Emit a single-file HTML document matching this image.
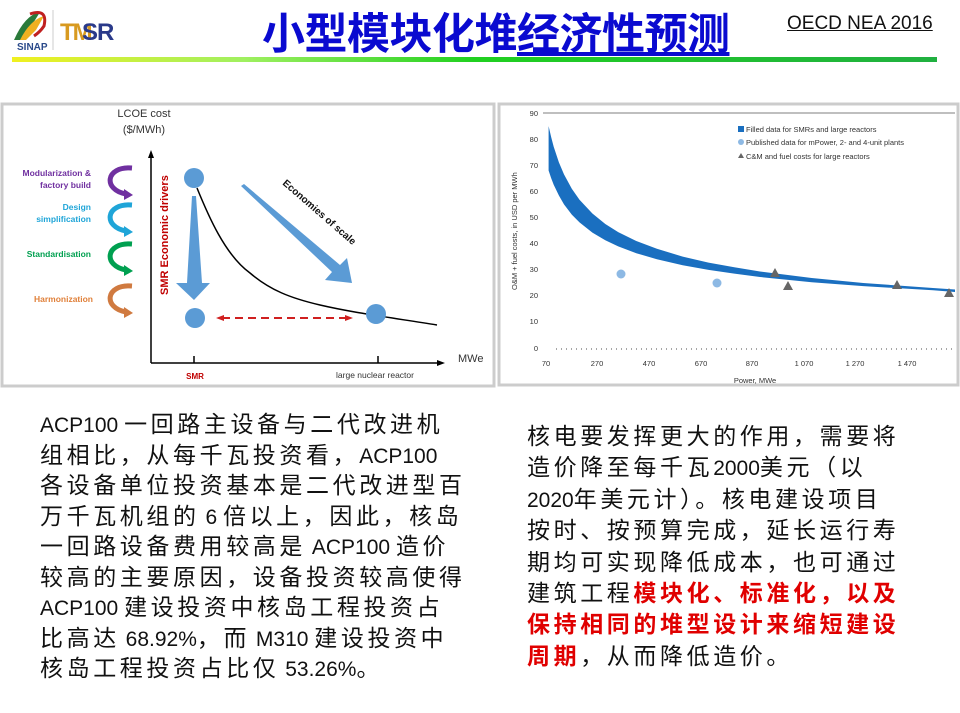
<!DOCTYPE html>
<html><head><meta charset="utf-8"><style>
body{margin:0;width:960px;height:713px;background:#fff;position:relative;overflow:hidden;font-family:"Liberation Sans","Noto Sans CJK SC",sans-serif}
.t{position:absolute;white-space:nowrap}
.p{position:absolute;font-size:23px;letter-spacing:3.6px;color:#111;font-family:"Liberation Sans","Noto Sans CJK SC",sans-serif;white-space:nowrap}
.p div{height:30.5px;line-height:30px;overflow:visible}
.p.r div{height:31.4px}
.p i{font-style:normal;font-size:21px;letter-spacing:0}
</style></head><body>
<div class="t" style="left:262px;top:3px;font-size:43px;font-weight:bold;color:#0a0ad0;font-family:'Noto Sans CJK SC',sans-serif;letter-spacing:-0.5px;line-height:56px">小型模块化堆<span style="text-decoration:underline">经济性预测</span></div>
<div class="t" style="left:787px;top:13px;font-size:19px;color:#111;text-decoration:underline">OECD NEA 2016</div>
<div style="position:absolute;left:12px;top:57px;width:925px;height:5px;background:linear-gradient(90deg,#f0f020,#a0f060 25%,#20d020 50%,#20b040 100%)"></div>
<svg style="position:absolute;left:0;top:0" width="960" height="713">
 <path d="M14 40 Q25 15 40 12 Q34 22 22 40Z" fill="#2a7a3a"/>
 <path d="M20 40 Q30 20 44 16 L36 30 Q30 36 26 40Z" fill="#f0b020"/>
 <path d="M30 14 Q48 8 44 26 Q40 32 34 36" fill="none" stroke="#c02020" stroke-width="3"/>
 <text x="17" y="50" font-size="10" font-weight="bold" fill="#2a4a8a" font-family="Liberation Sans">SINAP</text>
 <line x1="53" y1="10" x2="53" y2="50" stroke="#ccc"/>
 <text x="60" y="40" font-size="24" font-weight="bold" fill="#d89a20" font-family="Liberation Sans" letter-spacing="-2">TM</text>
 <text x="82" y="40" font-size="24" font-weight="bold" fill="#2a3a8a" font-family="Liberation Sans" letter-spacing="-1">SR</text>
 <rect x="2" y="104" width="492" height="282" fill="#fff" stroke="#ccc" stroke-width="3"/>
 <rect x="499" y="104" width="459" height="281" fill="#fff" stroke="#ccc" stroke-width="3"/>
 <g font-family="Liberation Sans">
 <text x="144" y="117" font-size="11" fill="#333" text-anchor="middle">LCOE cost</text>
 <text x="144" y="133" font-size="11" fill="#333" text-anchor="middle">($/MWh)</text>
 <line x1="151" y1="155" x2="151" y2="363" stroke="#000" stroke-width="1.5"/>
 <path d="M148 158 L151 150 L154 158Z"/>
 <line x1="151" y1="363" x2="440" y2="363" stroke="#000" stroke-width="1.5"/>
 <path d="M437 360 L445 363 L437 366Z"/>
 <line x1="194" y1="356" x2="194" y2="363" stroke="#000" stroke-width="1.5"/>
 <line x1="378" y1="356" x2="378" y2="363" stroke="#000" stroke-width="1.5"/>
 <text x="195" y="379" font-size="8" font-weight="bold" fill="#c00000" text-anchor="middle">SMR</text>
 <text x="375" y="378" font-size="8.5" fill="#333" text-anchor="middle">large nuclear reactor</text>
 <text x="458" y="362" font-size="11" fill="#333">MWe</text>
 <path d="M197 188 C208 215 225 255 250 273 C270 290 290 298 320 305 C350 312 380 316 437 325" fill="none" stroke="#000" stroke-width="1.5"/>
 <polygon points="192,196 196,196 202,283 210,283 194,300 176,283 187,283" fill="#5b9bd5"/>
 <polygon points="241,186 244,184 340,265 347,258 352,283 325,280 332,272" fill="#5b9bd5"/>
 <circle cx="194" cy="178" r="10" fill="#5b9bd5"/>
 <circle cx="195" cy="318" r="10" fill="#5b9bd5"/>
 <circle cx="376" cy="314" r="10" fill="#5b9bd5"/>
 <line x1="222" y1="318" x2="347" y2="318" stroke="#d02020" stroke-width="2" stroke-dasharray="8,5"/>
 <path d="M216 318 L224 315 L224 321Z M353 318 L345 315 L345 321Z" fill="#d02020"/>
 <text transform="translate(282,184) rotate(41)" font-size="10" font-weight="bold" fill="#111">Economies of scale</text>
 <text transform="translate(168,295) rotate(-90)" font-size="11" font-weight="bold" fill="#c00000">SMR Economic drivers</text>
 <g font-size="8.5" font-weight="bold" text-anchor="end">
  <text x="91" y="176" fill="#7030a0">Modularization &amp;</text>
  <text x="91" y="188" fill="#7030a0">factory build</text>
  <text x="91" y="210" fill="#1fa5d8">Design</text>
  <text x="91" y="222" fill="#1fa5d8">simplification</text>
  <text x="91" y="257" fill="#00a050">Standardisation</text>
  <text x="93" y="302" fill="#e0803a">Harmonization</text>
 </g>
 <g fill="none" stroke-width="5">
  <path d="M132 168 C105 166 103 190 126 194" stroke="#7030a0"/>
  <path d="M132 205 C105 203 103 227 126 231" stroke="#1fa5d8"/>
  <path d="M132 244 C105 242 103 266 126 270" stroke="#00a050"/>
  <path d="M132 286 C105 284 103 308 126 312" stroke="#d07a40"/>
 </g>
 <path d="M124 189 L133 195 L124 200Z" fill="#7030a0"/>
 <path d="M124 226 L133 232 L124 237Z" fill="#1fa5d8"/>
 <path d="M124 265 L133 271 L124 276Z" fill="#00a050"/>
 <path d="M124 307 L133 313 L124 318Z" fill="#d07a40"/>
 </g>
 <g font-family="Liberation Sans" font-size="7.5" fill="#333">
  <line x1="543" y1="113" x2="955" y2="113" stroke="#555" stroke-width="0.7"/>
  <g text-anchor="end">
   <text x="538" y="116">90</text><text x="538" y="142">80</text><text x="538" y="168">70</text><text x="538" y="194">60</text><text x="538" y="220">50</text><text x="538" y="246">40</text><text x="538" y="272">30</text><text x="538" y="298">20</text><text x="538" y="324">10</text><text x="538" y="351">0</text>
  </g>
  <g text-anchor="middle">
   <text x="546" y="366">70</text><text x="597" y="366">270</text><text x="649" y="366">470</text><text x="701" y="366">670</text><text x="752" y="366">870</text><text x="804" y="366">1 070</text><text x="855" y="366">1 270</text><text x="907" y="366">1 470</text>
   <text x="755" y="383">Power, MWe</text>
  </g>
  <text transform="translate(517,290) rotate(-90)">O&amp;M + fuel costs, in USD per MWh</text>
  <line x1="556" y1="349" x2="955" y2="349" stroke="#888" stroke-width="1.5" stroke-dasharray="1,4"/>
  <path d="M548.6 126.1 L551.2 137.3 L553.7 146.7 L558.9 162.4 L564 174.4 L571.8 188.7 L579.5 199.7 L592.4 213.5 L605.3 224 L618.2 232.1 L636.3 241 L656.9 248.8 L682.7 256.6 L708.5 262.6 L734.3 267.3 L760 271.5 L811.7 278 L863.3 283 L933 288 L955 289.5 L955 292 L933 290.3 L863.3 286.1 L811.7 282.2 L760 277 L734.3 273.6 L708.5 269.9 L682.7 265.2 L656.9 259.2 L636.3 253.2 L618.2 246.4 L605.3 240.2 L592.4 232.6 L579.5 222.4 L571.8 214.6 L564 204.4 L558.9 195.5 L553.7 184.8 L551.2 178.3 L548.6 170.5Z" fill="#1a6fc0"/>
  <circle cx="621" cy="274" r="4.5" fill="#8db9e4"/>
  <circle cx="717" cy="283" r="4.5" fill="#8db9e4"/>
  <g fill="#666">
   <path d="M775 268 L780 277 L770 277Z"/><path d="M788 281 L793 290 L783 290Z"/><path d="M897 280 L902 289 L892 289Z"/><path d="M949 288 L954 297 L944 297Z"/>
  </g>
  <rect x="738" y="126" width="6" height="6" fill="#1a6fc0"/>
  <circle cx="741" cy="142" r="3" fill="#8db9e4"/>
  <path d="M741 153 L744 158 L738 158Z" fill="#666"/>
  <text x="746" y="132">Filled data for SMRs and large reactors</text>
  <text x="746" y="145">Published data for mPower, 2- and 4-unit plants</text>
  <text x="746" y="159">C&amp;M and fuel costs for large reactors</text>
 </g>
</svg>
<div class="p" style="left:40px;top:409px">
<div><i>ACP100 </i>一回路主设备与二代改进机</div>
<div>组相比，从每千瓦投资看，<i>ACP100</i></div>
<div>各设备单位投资基本是二代改进型百</div>
<div>万千瓦机组的<i> 6 </i>倍以上，因此，核岛</div>
<div>一回路设备费用较高是<i> ACP100 </i>造价</div>
<div>较高的主要原因，设备投资较高使得</div>
<div><i>ACP100 </i>建设投资中核岛工程投资占</div>
<div>比高达<i> 68.92%</i>，而<i> M310 </i>建设投资中</div>
<div>核岛工程投资占比仅<i> 53.26%</i>。</div>
</div>
<div class="p r" style="left:527px;top:421px">
<div>核电要发挥更大的作用，需要将</div>
<div>造价降至每千瓦<i>2000</i>美元（以</div>
<div><i>2020</i>年美元计）。核电建设项目</div>
<div>按时、按预算完成，延长运行寿</div>
<div>期均可实现降低成本，也可通过</div>
<div>建筑工程<b style="color:#e00000">模块化、标准化，以及</b></div>
<div><b style="color:#e00000">保持相同的堆型设计来缩短建设</b></div>
<div><b style="color:#e00000">周期</b>，从而降低造价。</div>
</div>
</body></html>
